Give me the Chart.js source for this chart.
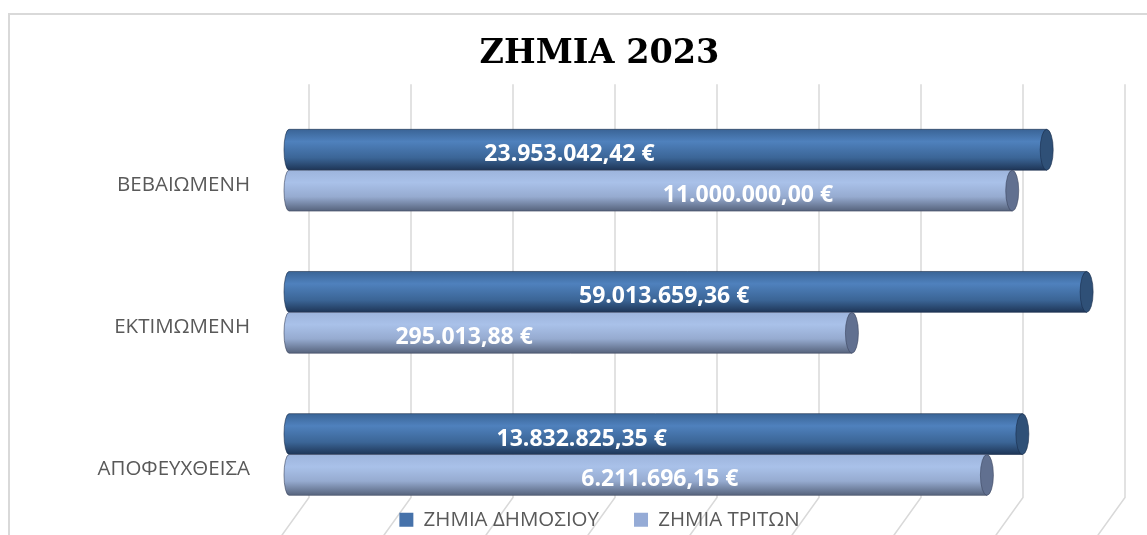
<!DOCTYPE html>
<html>
<head>
<meta charset="utf-8">
<script src="https://cdn.jsdelivr.net/npm/chart.js@4/dist/chart.umd.min.js"></script>
<style>
  html, body { margin: 0; padding: 0; background: #fff; overflow: hidden; }
  #frame { position: absolute; left: 8px; top: 13px; width: 1300px; height: 700px; border: 2px solid #d9d9d9; }
  #wrap { position: absolute; left: 0; top: 0; }
</style>
</head>
<body>
<div id="frame"></div>
<div id="wrap"><canvas id="chart" width="1199" height="540"></canvas></div>
<script>
const categories = ['ΒΕΒΑΙΩΜΕΝΗ', 'ΕΚΤΙΜΩΜΕΝΗ', 'ΑΠΟΦΕΥΧΘΕΙΣΑ'];
const seriesNames = ['ΖΗΜΙΑ ΔΗΜΟΣΙΟΥ', 'ΖΗΜΙΑ ΤΡΙΤΩΝ'];
const publicLoss = [23953042.42, 59013659.36, 13832825.35];
const thirdPartyLoss = [11000000.00, 295013.88, 6211696.15];
const axisTicks = [1, 10, 100, 1e3, 1e4, 1e5, 1e6, 1e7, 1e8];

// where each value label sits along its bar (0 = start, 1 = end)
const publicLabelAt = [0.366, 0.467, 0.395];
const thirdLabelAt = [0.632, 0.305, 0.528];

const looks = [
  { legend: '#4672aa', cap: '#2f5077', edge: 'rgba(25,45,75,0.6)',
    body: [[0, '#3a6496'], [0.3, '#4f81bd'], [0.7, '#3b6596'], [1, '#1e3556']] },
  { legend: '#95abd6', cap: '#617090', edge: 'rgba(60,70,95,0.6)',
    body: [[0, '#9db4dc'], [0.3, '#a9c1e9'], [0.65, '#96abd0'], [1, '#56637c']] }
];

function euro(v) {
  const [i, d] = v.toFixed(2).split('.');
  return i.replace(/\B(?=(\d{3})+(?!\d))/g, '.') + ',' + d + ' €';
}

const cylinders = {
  id: 'cylinders',
  beforeDraw(chart) {
    const { ctx, chartArea: area, scales: { x } } = chart;
    ctx.save();
    ctx.strokeStyle = '#d9d9d9';
    ctx.lineWidth = 1.5;
    axisTicks.forEach(v => {
      const px = x.getPixelForValue(v);
      ctx.beginPath();
      ctx.moveTo(px + 15, area.top - 86);
      ctx.lineTo(px + 15, area.bottom + 43);
      ctx.lineTo(px - 13, area.bottom + 82);
      ctx.stroke();
    });
    ctx.restore();
  },
  afterDatasetsDraw(chart) {
    const ctx = chart.ctx;
    const labelAt = [publicLabelAt, thirdLabelAt];
    const texts = [];
    chart.data.datasets.forEach((ds, di) => {
      const look = looks[di];
      chart.getDatasetMeta(di).data.forEach((bar, i) => {
        const { x, y, base, height } = bar.getProps(['x', 'y', 'base', 'height'], true);
        const top = y - height / 2, bot = y + height / 2, ry = height / 2;
        const left = base - 10;
        const g = ctx.createLinearGradient(0, top, 0, bot);
        look.body.forEach(([o, c]) => g.addColorStop(o, c));
        ctx.save();
        ctx.beginPath();
        ctx.moveTo(x, top);
        ctx.lineTo(left + 5, top);
        ctx.ellipse(left + 5, y, 5, ry, 0, -Math.PI / 2, Math.PI / 2, true);
        ctx.lineTo(x, bot);
        ctx.closePath();
        ctx.fillStyle = g;
        ctx.fill();
        ctx.strokeStyle = look.edge;
        ctx.lineWidth = 1;
        ctx.stroke();
        ctx.beginPath();
        ctx.ellipse(x, y, 6.5, ry, 0, 0, Math.PI * 2);
        ctx.fillStyle = look.cap;
        ctx.fill();
        ctx.stroke();
        ctx.restore();
        texts.push({ t: euro(ds.data[i]), x: base + labelAt[di][i] * (x - base), y: y + 5 });
      });
    });
    ctx.save();
    ctx.fillStyle = '#fff';
    ctx.font = 'bold 23px "Open Sans"';
    ctx.textAlign = 'center';
    ctx.textBaseline = 'middle';
    texts.forEach(l => ctx.fillText(l.t, l.x, l.y));
    ctx.restore();
  }
};

new Chart(document.getElementById('chart'), {
  type: 'bar',
  data: {
    labels: categories,
    datasets: [
      { label: seriesNames[0], data: publicLoss, backgroundColor: 'rgba(0,0,0,0)', borderWidth: 0 },
      { label: seriesNames[1], data: thirdPartyLoss, backgroundColor: 'rgba(0,0,0,0)', borderWidth: 0 }
    ]
  },
  options: {
    indexAxis: 'y',
    responsive: false,
    animation: false,
    categoryPercentage: 0.575,
    barPercentage: 1,
    layout: { padding: 0 },
    plugins: {
      tooltip: { enabled: false },
      title: {
        display: true,
        text: 'ΖΗΜΙΑ 2023',
        color: '#000',
        font: { family: 'DejaVu Serif', size: 33.5, weight: 'bold' },
        padding: { top: 34, bottom: 96 }
      },
      legend: {
        position: 'bottom',
        labels: {
          boxWidth: 14,
          boxHeight: 14,
          padding: 35,
          color: '#595959',
          font: { family: 'Open Sans', size: 20.5 },
          generateLabels: chart => chart.data.datasets.map((ds, i) => ({
            text: ds.label, fillStyle: looks[i].legend, strokeStyle: looks[i].legend,
            lineWidth: 0, datasetIndex: i, fontColor: '#595959'
          }))
        }
      }
    },
    scales: {
      x: {
        type: 'logarithmic',
        min: 1,
        max: 1e8,
        afterBuildTicks: s => { s.ticks = axisTicks.map(v => ({ value: v })); },
        afterFit: s => { s.height = 20; },
        ticks: { display: false },
        grid: { display: false },
        border: { display: false }
      },
      y: {
        offset: false,
        afterFit: s => { s.width = 294; },
        ticks: { color: '#595959', font: { family: 'Open Sans', size: 20.5 }, padding: 44, labelOffset: 15 },
        grid: { display: false, drawTicks: false },
        border: { display: false }
      },
      yRight: {
        type: 'category',
        position: 'right',
        afterFit: s => { s.width = 1199 - 1110; },
        ticks: { display: false },
        grid: { display: false, drawTicks: false },
        border: { display: false }
      }
    }
  },
  plugins: [cylinders]
});
</script>
</body>
</html>
